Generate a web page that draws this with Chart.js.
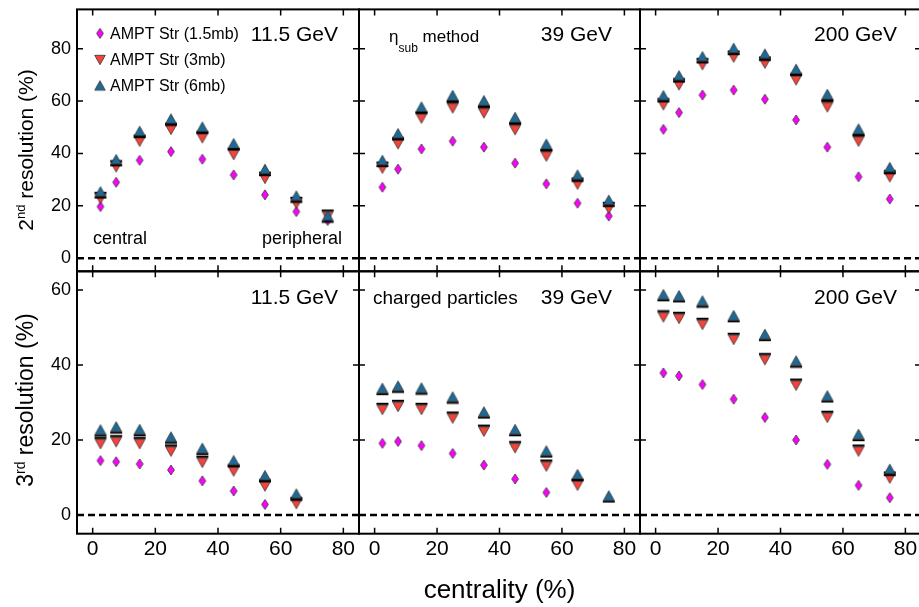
<!DOCTYPE html>
<html>
<head>
<meta charset="utf-8">
<title>Event plane resolution vs centrality</title>
<script src="https://cdn.jsdelivr.net/npm/chart.js@4.4.1/dist/chart.umd.min.js"></script>
<style>
  html, body { margin: 0; padding: 0; background: #fff; }
  #wrap { position: relative; width: 919px; height: 607px; overflow: hidden; background: #fff; }
  #wrap canvas { position: absolute; left: 0; top: 0; }
</style>
</head>
<body>
<div id="wrap"></div>
<script>
// centrality bin centres (%)
const centrality = [2.5, 7.5, 15, 25, 35, 45, 55, 65, 75];

// 2nd order resolution (%), AMPT string melting, by cross section
const res2_11_1p5 = [19.7, 29.0, 37.4, 40.7, 37.8, 31.8, 24.2, 17.8, 14.4];
const res2_11_3   = [22.6, 34.7, 44.5, 49.0, 45.8, 39.4, 30.3, 20.7, 15.9];
const res2_11_6   = [25.5, 37.8, 48.6, 53.3, 50.2, 43.9, 34.1, 23.9, 16.3];

const res2_39_1p5 = [27.1, 34.0, 41.7, 44.7, 42.4, 36.3, 28.4, 21.0, 16.1];
const res2_39_3   = [34.2, 43.5, 53.3, 57.2, 55.3, 48.9, 38.8, 28.1, 18.8];
const res2_39_6   = [37.5, 47.7, 57.9, 62.3, 60.3, 53.9, 43.7, 31.9, 22.3];

const res2_200_1p5 = [49.2, 55.6, 62.3, 64.2, 60.7, 52.8, 42.4, 31.1, 22.6];
const res2_200_3   = [58.4, 66.0, 73.7, 76.6, 74.3, 67.9, 57.6, 44.5, 30.9];
const res2_200_6   = [62.2, 69.8, 77.1, 80.3, 78.1, 72.3, 62.7, 49.5, 34.8];

// 3rd order resolution (%)
const res3_11_1p5 = [14.5, 14.2, 13.6, 12.0, 9.1, 6.4, 2.8, null, null];
const res3_11_3   = [18.9, 19.4, 18.9, 16.9, 13.9, 11.6, 7.6, 2.9, null];
const res3_11_6   = [22.8, 23.6, 22.9, 20.9, 17.9, 14.6, 10.6, 5.7, null];

const res3_39_1p5 = [19.1, 19.6, 18.5, 16.4, 13.3, 9.6, 6.0, null, null];
const res3_39_3   = [28.0, 28.8, 28.0, 25.7, 22.2, 17.8, 12.9, 7.8, null];
const res3_39_6   = [33.9, 34.5, 34.0, 31.6, 27.6, 22.9, 17.2, 10.9, 5.2];

const res3_200_1p5 = [37.9, 37.1, 34.8, 30.9, 26.0, 20.0, 13.5, 7.9, 4.6];
const res3_200_3   = [52.7, 52.3, 50.7, 46.7, 41.3, 34.5, 25.9, 16.9, 9.7];
const res3_200_6   = [58.9, 58.6, 57.2, 53.3, 48.3, 41.2, 31.9, 21.6, 12.3];

const seriesNames = ["AMPT Str (1.5mb)", "AMPT Str (3mb)", "AMPT Str (6mb)"];
const xRange = [-5, 85];
const yRange2 = [-5, 95];
const yRange3 = [-5, 65];
const xTicks = [0, 20, 40, 60, 80];
const yTicks2 = [0, 20, 40, 60, 80];
const yTicks3 = [0, 20, 40, 60];

const FONT = '"Liberation Sans", Arial, Helvetica, sans-serif';
const MAGENTA = "#ff00ff", RED = "#f5423a", BLUE = "#1b6a98";

// page grid: panel edges in px
const CANVAS_W = 930, CANVAS_H = 607;
const colEdges = [77, 359, 640, 921];
const rowEdges = [9.4, 271.3, 533.7];

Chart.defaults.font.family = FONT;
Chart.defaults.color = "#000";

// marker sprites: diamond, down triangle, up triangle (with bar on the flat side)
function makeMarker(kind, withBar) {
    const c = document.createElement("canvas");
    c.width = 16; c.height = 16;
    const g = c.getContext("2d");
    const cx = 8, cy = 8;
    g.beginPath();
    if (kind === "diamond") {
        g.moveTo(cx, cy - 5); g.lineTo(cx + 3.4, cy); g.lineTo(cx, cy + 5); g.lineTo(cx - 3.4, cy);
        g.fillStyle = MAGENTA;
    } else if (kind === "up") {
        g.moveTo(cx, cy - 4.7); g.lineTo(cx + 5.3, cy + 4.7); g.lineTo(cx - 5.3, cy + 4.7);
        g.fillStyle = BLUE;
    } else {
        g.moveTo(cx - 5.3, cy - 4.7); g.lineTo(cx + 5.3, cy - 4.7); g.lineTo(cx, cy + 4.7);
        g.fillStyle = RED;
    }
    g.closePath();
    g.fill();
    g.lineWidth = 0.8; g.strokeStyle = "#333";
    g.stroke();
    if (withBar) {
        g.fillStyle = "#000";
        g.fillRect(cx - 6, kind === "up" ? cy + 5.2 : cy - 7.2, 12, 2);
    }
    return c;
}
const markDiamond = makeMarker("diamond", false);
const markDown = makeMarker("down", true);
const markUp = makeMarker("up", true);
const legendMarks = [markDiamond, makeMarker("down", false), makeMarker("up", false)];

// text with super/subscript runs; (x, y) is the baseline anchor
function drawRuns(ctx, x, y, runs, align, rotate) {
    ctx.save();
    ctx.translate(x, y);
    if (rotate) ctx.rotate(-Math.PI / 2);
    ctx.textBaseline = "alphabetic";
    ctx.textAlign = "left";
    ctx.fillStyle = "#000";
    const widths = runs.map(r => { ctx.font = r.size + "px " + FONT; return ctx.measureText(r.text).width; });
    const total = widths.reduce((s, w) => s + w, 0);
    let cx = align === "right" ? -total : align === "center" ? -total / 2 : 0;
    runs.forEach((r, i) => {
        ctx.font = r.size + "px " + FONT;
        ctx.fillText(r.text, cx, r.dy || 0);
        cx += widths[i];
    });
    ctx.restore();
}

const framePlugin = {
    id: "frame",
    beforeDatasetsDraw(chart) {
        const { ctx, chartArea: a, scales: { y } } = chart;
        const y0 = y.getPixelForValue(0);
        ctx.save();
        ctx.strokeStyle = "#000";
        ctx.lineWidth = 2.5;
        ctx.setLineDash([7, 4]);
        ctx.beginPath();
        ctx.moveTo(a.left, y0);
        ctx.lineTo(a.right, y0);
        ctx.stroke();
        ctx.restore();
    },
    afterDraw(chart, args, opts) {
        const { ctx, chartArea: a, scales: { x, y } } = chart;
        ctx.save();
        ctx.strokeStyle = "#000";
        ctx.lineWidth = 1.5;
        ctx.beginPath();
        x.ticks.forEach(t => {
            const px = x.getPixelForValue(t.value);
            ctx.moveTo(px, a.top); ctx.lineTo(px, a.top + 6);
            ctx.moveTo(px, a.bottom); ctx.lineTo(px, a.bottom - 6);
        });
        y.ticks.forEach(t => {
            const py = y.getPixelForValue(t.value);
            ctx.moveTo(a.left, py); ctx.lineTo(a.left + 6, py);
            ctx.moveTo(a.right, py); ctx.lineTo(a.right - 6, py);
        });
        ctx.stroke();
        ctx.lineWidth = 2;
        ctx.strokeRect(a.left, a.top, a.right - a.left, a.bottom - a.top);

        (opts.notes || []).forEach(n => drawRuns(ctx, a.left + n.dx, a.top + n.dy, n.runs, n.align, n.rotate));

        if (opts.legend) {
            const rows = [[24, 29.1], [50.6, 55.1], [76.1, 81.1]];
            rows.forEach((r, i) => {
                const m = legendMarks[i];
                ctx.drawImage(m, a.left + 23 - m.width / 2, a.top + r[0] - m.height / 2);
                drawRuns(ctx, a.left + 33, a.top + r[1], [{ text: seriesNames[i], size: 16 }], "left");
            });
        }
        ctx.restore();
    }
};

function points(values) {
    return values.map((v, i) => ({ x: centrality[i], y: v })).filter(p => p.y !== null);
}

function energyNote(text, dx, dy) {
    return { runs: [{ text: text, size: 21 }], dx: dx, dy: dy, align: "right" };
}

const panels = [
    { col: 0, row: 0, sets: [res2_11_1p5, res2_11_3, res2_11_6], legend: true, notes: [
        energyNote("11.5 GeV", 261, 31.1),
        { runs: [{ text: "central", size: 18 }], dx: 16, dy: 234.9, align: "left" },
        { runs: [{ text: "peripheral", size: 18 }], dx: 265, dy: 234.9, align: "right" },
        { runs: [{ text: "2", size: 21 }, { text: "nd", size: 13, dy: -8 }, { text: " resolution (%)", size: 21 }],
          dx: -44, dy: 140.6, align: "center", rotate: true }
    ] },
    { col: 1, row: 0, sets: [res2_39_1p5, res2_39_3, res2_39_6], notes: [
        energyNote("39 GeV", 253, 31.1),
        { runs: [{ text: "η", size: 17 }, { text: "sub", size: 12, dy: 10 }, { text: " method", size: 17 }],
          dx: 30, dy: 32.3, align: "left" }
    ] },
    { col: 2, row: 0, sets: [res2_200_1p5, res2_200_3, res2_200_6], notes: [
        energyNote("200 GeV", 257, 31.1)
    ] },
    { col: 0, row: 1, sets: [res3_11_1p5, res3_11_3, res3_11_6], notes: [
        energyNote("11.5 GeV", 261, 32.7),
        { runs: [{ text: "3", size: 23 }, { text: "rd", size: 14, dy: -8 }, { text: " resolution (%)", size: 23 }],
          dx: -44, dy: 128.7, align: "center", rotate: true }
    ] },
    { col: 1, row: 1, sets: [res3_39_1p5, res3_39_3, res3_39_6], notes: [
        energyNote("39 GeV", 253, 32.7),
        { runs: [{ text: "charged particles", size: 19 }], dx: 14, dy: 32.7, align: "left" },
        { runs: [{ text: "centrality (%)", size: 26 }], dx: 140.5, dy: 326.7, align: "center" }
    ] },
    { col: 2, row: 1, sets: [res3_200_1p5, res3_200_3, res3_200_6], notes: [
        energyNote("200 GeV", 257, 32.7)
    ] }
];

function buildPanel(p) {
    const canvas = document.createElement("canvas");
    canvas.width = CANVAS_W;
    canvas.height = CANVAS_H;
    document.getElementById("wrap").appendChild(canvas);

    const left = colEdges[p.col], right = colEdges[p.col + 1];
    const top = rowEdges[p.row], bottom = rowEdges[p.row + 1];
    const showY = p.col === 0, showX = p.row === 1;
    const yRange = p.row === 0 ? yRange2 : yRange3;
    const yTicks = p.row === 0 ? yTicks2 : yTicks3;

    // blue drawn on top, then red, then magenta
    const datasets = [
        { label: seriesNames[2], data: points(p.sets[2]), pointStyle: markUp, order: 1 },
        { label: seriesNames[1], data: points(p.sets[1]), pointStyle: markDown, order: 2 },
        { label: seriesNames[0], data: points(p.sets[0]), pointStyle: markDiamond, order: 3 }
    ].map(d => Object.assign(d, { pointRadius: 5, showLine: false }));

    new Chart(canvas, {
        type: "scatter",
        data: { datasets: datasets },
        options: {
            responsive: false,
            animation: false,
            devicePixelRatio: 1,
            events: [],
            layout: {
                autoPadding: false,
                padding: {
                    left: showY ? 0 : left,
                    right: CANVAS_W - right,
                    top: top,
                    bottom: showX ? 0 : CANVAS_H - bottom
                }
            },
            plugins: {
                legend: { display: false },
                tooltip: { enabled: false },
                frame: { notes: p.notes, legend: !!p.legend }
            },
            scales: {
                x: {
                    type: "linear", min: xRange[0], max: xRange[1],
                    grid: { display: false, drawTicks: false },
                    border: { display: false },
                    ticks: { display: showX, padding: 3, maxRotation: 0, autoSkip: false,
                             font: { size: 21 }, color: "#000" },
                    afterBuildTicks: s => { s.ticks = xTicks.map(v => ({ value: v })); },
                    afterFit: s => {
                        s.height = showX ? CANVAS_H - bottom : 0;
                        s.paddingLeft = 0; s.paddingRight = 0;
                    }
                },
                y: {
                    type: "linear", min: yRange[0], max: yRange[1],
                    grid: { display: false, drawTicks: false },
                    border: { display: false },
                    ticks: { display: showY, padding: 6, autoSkip: false,
                             font: { size: 18 }, color: "#000" },
                    afterBuildTicks: s => { s.ticks = yTicks.map(v => ({ value: v })); },
                    afterFit: s => {
                        s.width = showY ? left : 0;
                        s.paddingTop = 0; s.paddingBottom = 0;
                    }
                }
            }
        },
        plugins: [framePlugin]
    });
}

panels.forEach(buildPanel);
</script>
</body>
</html>
